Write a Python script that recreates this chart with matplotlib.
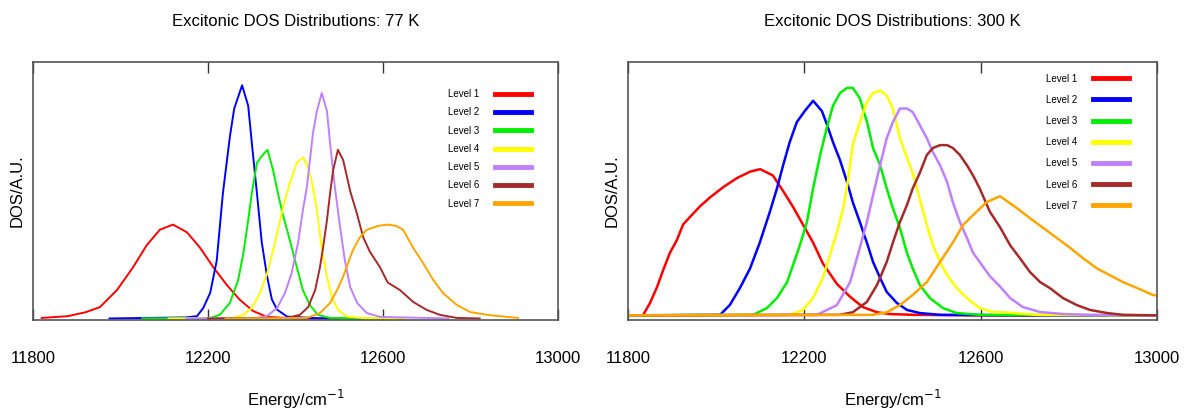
import matplotlib
matplotlib.use("Agg")
import matplotlib.pyplot as plt

plt.rcParams['font.family'] = ['Liberation Sans', 'DejaVu Sans']

levels = ['Level 1', 'Level 2', 'Level 3', 'Level 4', 'Level 5', 'Level 6', 'Level 7']
colors = ['#ff0000', '#0000ff', '#00ee00', '#ffff00', '#c080ff', '#a52a2a', '#ffa500']
ticks = [11800, 12200, 12600, 13000]

# ---- 77 K: energy (cm^-1) and DOS (arbitrary units) per level ----
e77_1 = [11820, 11880, 11920, 11953, 11992, 12029, 12060, 12090, 12120, 12152,
         12182, 12212, 12243, 12273, 12303, 12335, 12400, 12500]
d77_1 = [0.8, 1.5, 3, 5, 11.6, 20.5, 29, 35, 37, 34,
         28, 20.5, 13.6, 7.8, 3.5, 1.2, 0.6, 0.5]

e77_2 = [11975, 12150, 12175, 12189, 12205, 12220, 12234, 12250, 12260, 12270, 12278,
         12285, 12292, 12300, 12312, 12323, 12335, 12346, 12358, 12381, 12450, 12550]
d77_2 = [0.6, 1.0, 1.5, 4.6, 10.5, 23, 49, 71, 82, 87, 91,
         87, 83, 69, 49, 30, 17, 8, 4, 1.3, 0.7, 0.6]

e77_3 = [12050, 12205, 12227, 12250, 12269, 12281, 12292, 12300, 12312, 12325, 12336,
         12349, 12360, 12371, 12387, 12403, 12417, 12433, 12451, 12479, 12600]
d77_3 = [0.6, 0.8, 2, 6.6, 15.5, 26, 38.8, 49, 61, 64, 66,
         58, 49, 41, 31, 20.5, 11.6, 5.8, 2, 0.8, 0.6]

e77_4 = [12110, 12258, 12281, 12300, 12319, 12335, 12349, 12365, 12376, 12387, 12403,
         12418, 12429, 12437, 12449, 12460, 12472, 12483, 12497, 12518, 12554, 12650]
d77_4 = [0.6, 0.8, 2, 4.6, 10.5, 18, 27, 38.8, 46.5, 53, 61,
         63, 59, 54, 42.6, 28, 16.8, 9, 3.9, 1.3, 0.8, 0.6]

e77_5 = [12150, 12312, 12335, 12358, 12376, 12391, 12406, 12417, 12426, 12433, 12440, 12449,
         12460, 12472, 12479, 12490, 12502, 12513, 12525, 12541, 12563, 12593, 12750]
d77_5 = [0.6, 0.8, 1.6, 4.6, 10.5, 18, 30, 42.6, 51.5, 62, 72.5, 81,
         88, 81, 68.6, 51.5, 36, 23, 12.8, 6.6, 2.7, 1.2, 0.6]

e77_6 = [12200, 12381, 12410, 12429, 12445, 12456, 12463, 12472, 12479, 12486, 12497, 12509,
         12525, 12540, 12555, 12570, 12593, 12611, 12639, 12669, 12700, 12730, 12769, 12821]
d77_6 = [0.6, 0.8, 2, 5, 11.6, 20.5, 28, 38.8, 49, 58, 66, 62,
         50, 41.5, 32, 26.5, 20.5, 14.5, 11.6, 7, 3.9, 2, 0.8, 0.6]

e77_7 = [12240, 12426, 12456, 12479, 12495, 12509, 12520, 12531, 12547, 12563, 12590, 12610,
         12630, 12646, 12669, 12692, 12715, 12737, 12769, 12799, 12838, 12883, 12909]
d77_7 = [0.6, 0.8, 2.7, 6.6, 11.6, 16.8, 22, 27, 32, 35, 36.5, 37,
         36.5, 35, 28, 22, 15.5, 10.5, 5.8, 3.1, 2, 1.2, 0.8]

# ---- 300 K ----
e300_1 = [11834, 11850, 11866, 11880, 11895, 11911, 11925, 11941, 11963, 11986, 12016,
          12047, 12077, 12100, 12129, 12152, 12174, 12197, 12220, 12242, 12274, 12304,
          12333, 12365, 12394, 12450, 12600, 12800, 13000]
d300_1 = [1.8, 6.6, 12.8, 19.4, 26, 31, 37, 40, 44, 47.5, 51.5,
          55, 57.5, 58.5, 56, 50, 44, 37, 30, 22, 14, 9,
          5, 3, 2.3, 2, 1.8, 1.8, 1.8]

e300_2 = [11800, 12009, 12031, 12054, 12077, 12099, 12122, 12138, 12152, 12167, 12183,
          12201, 12220, 12240, 12251, 12265, 12281, 12297, 12310, 12326, 12342, 12356,
          12372, 12387, 12410, 12433, 12462, 12508, 12700, 13000]
d300_2 = [1.8, 2, 5.8, 12.4, 20, 30, 42, 51, 60, 69, 76.7,
          81, 85, 81, 76, 69, 62, 53.5, 45.7, 38, 30, 22.5,
          16.3, 10.9, 6.6, 3.9, 2.7, 2, 1.8, 1.8]

e300_3 = [11800, 12084, 12115, 12138, 12161, 12174, 12190, 12206, 12220, 12236, 12251,
          12265, 12281, 12297, 12310, 12326, 12342, 12356, 12372, 12387, 12401, 12417,
          12433, 12446, 12462, 12485, 12515, 12546, 12598, 13000]
d300_3 = [1.8, 2, 4.6, 8.5, 14.7, 21, 29, 38, 51, 64, 74.4,
          83, 88, 90, 90, 86, 77, 66.7, 60, 51, 43.4, 35.7,
          26, 20, 13.6, 8.5, 4.6, 2.7, 2, 1.8]

e300_4 = [11800, 12167, 12197, 12220, 12242, 12258, 12274, 12288, 12299, 12310, 12326,
          12342, 12356, 12372, 12387, 12401, 12417, 12433, 12446, 12462, 12478, 12492,
          12508, 12524, 12546, 12569, 12598, 12628, 12651, 12728, 13000]
d300_4 = [1.8, 2, 3.9, 8.5, 16.3, 25, 34, 43, 54, 68, 76.7,
          84.5, 88, 89, 87, 82, 70.5, 62.8, 57, 47, 36.8, 29,
          22.5, 17.4, 12.4, 8.5, 4.6, 3.1, 3, 2, 1.8]

e300_5 = [11800, 12229, 12274, 12304, 12326, 12342, 12356, 12372, 12387, 12401, 12417,
          12433, 12446, 12462, 12478, 12492, 12508, 12524, 12537, 12553, 12569, 12583,
          12598, 12621, 12644, 12667, 12696, 12735, 12787, 12848, 13000]
d300_5 = [1.8, 2, 5.8, 14.7, 28, 38, 48.4, 60, 70.5, 76.7, 82,
          82, 80.6, 75.6, 70.5, 65, 60, 53.5, 45.7, 38, 31.8, 26,
          22.5, 17, 13, 8.5, 5, 3.1, 2.3, 2, 1.8]

e300_6 = [11800, 12280, 12310, 12342, 12365, 12387, 12401, 12417, 12433, 12446, 12462,
          12478, 12492, 12508, 12524, 12537, 12553, 12569, 12583, 12598, 12621, 12644,
          12667, 12689, 12712, 12735, 12757, 12787, 12818, 12848, 12887, 12923, 13000]
d300_6 = [1.8, 2, 3, 7, 13.6, 22.5, 30, 38, 44.6, 51, 57,
          64, 66.7, 67.8, 67.8, 66.7, 64, 60, 56, 51, 42, 36,
          29, 24, 18.6, 14.7, 12.4, 8.5, 5.8, 3.9, 2.7, 2, 1.8]

e300_7 = [11800, 12356, 12387, 12417, 12446, 12478, 12508, 12537, 12560, 12583, 12614,
          12644, 12682, 12712, 12742, 12773, 12803, 12832, 12864, 12893, 12923, 12955,
          12991, 13000]
d300_7 = [1.8, 2, 3, 5.8, 9.7, 14.7, 22.5, 30, 36.8, 40.7, 45.7,
          48, 43.4, 39.5, 35.7, 31.8, 28, 24, 20, 17.4, 14.7, 12.4,
          9.7, 9.5]

panels = [
    ('Excitonic DOS Distributions: 77 K',
     [e77_1, e77_2, e77_3, e77_4, e77_5, e77_6, e77_7],
     [d77_1, d77_2, d77_3, d77_4, d77_5, d77_6, d77_7],
     [0.0277, 0.2233, 0.4412, 0.626], 1.4, (0.79, 0.895), 0.85),
    ('Excitonic DOS Distributions: 300 K',
     [e300_1, e300_2, e300_3, e300_4, e300_5, e300_6, e300_7],
     [d300_1, d300_2, d300_3, d300_4, d300_5, d300_6, d300_7],
     [0.5277, 0.2233, 0.4445, 0.626], 1.8, (0.79, 0.955), 1.15),
]

fig = plt.figure(figsize=(11.9, 4.12), dpi=100)

for title, energies, dos, rect, lw, leg_pos, leg_space in panels:
    ax = fig.add_axes(rect)
    for e, d, name, c in zip(energies, dos, levels, colors):
        ax.plot(e, d, color=c, lw=lw, label=name)

    ax.set_xlim(11800, 13000)
    ax.set_ylim(0, 100)
    ax.set_xticks(ticks)
    ax.set_yticks([])
    ax.tick_params(axis='x', direction='in', length=8, width=1, color='#333333',
                   top=True, pad=22, labelsize=12)
    for s in ax.spines.values():
        s.set_color('#555555')
        s.set_linewidth(1.2)

    ax.set_title(title, fontsize=12, pad=26)
    ax.set_xlabel('Energy/cm$^{-1}$', fontsize=12, labelpad=16)
    ax.set_ylabel('DOS/A.U.', fontsize=12, labelpad=6)

    leg = ax.legend(loc='upper left', bbox_to_anchor=leg_pos, frameon=False,
                    markerfirst=False, fontsize=7, handlelength=3.7,
                    handletextpad=1.6, labelspacing=leg_space, borderpad=0,
                    borderaxespad=0)
    for h in leg.legend_handles:
        h.set_linewidth(3.5)

fig.savefig('out.png', dpi=100)
